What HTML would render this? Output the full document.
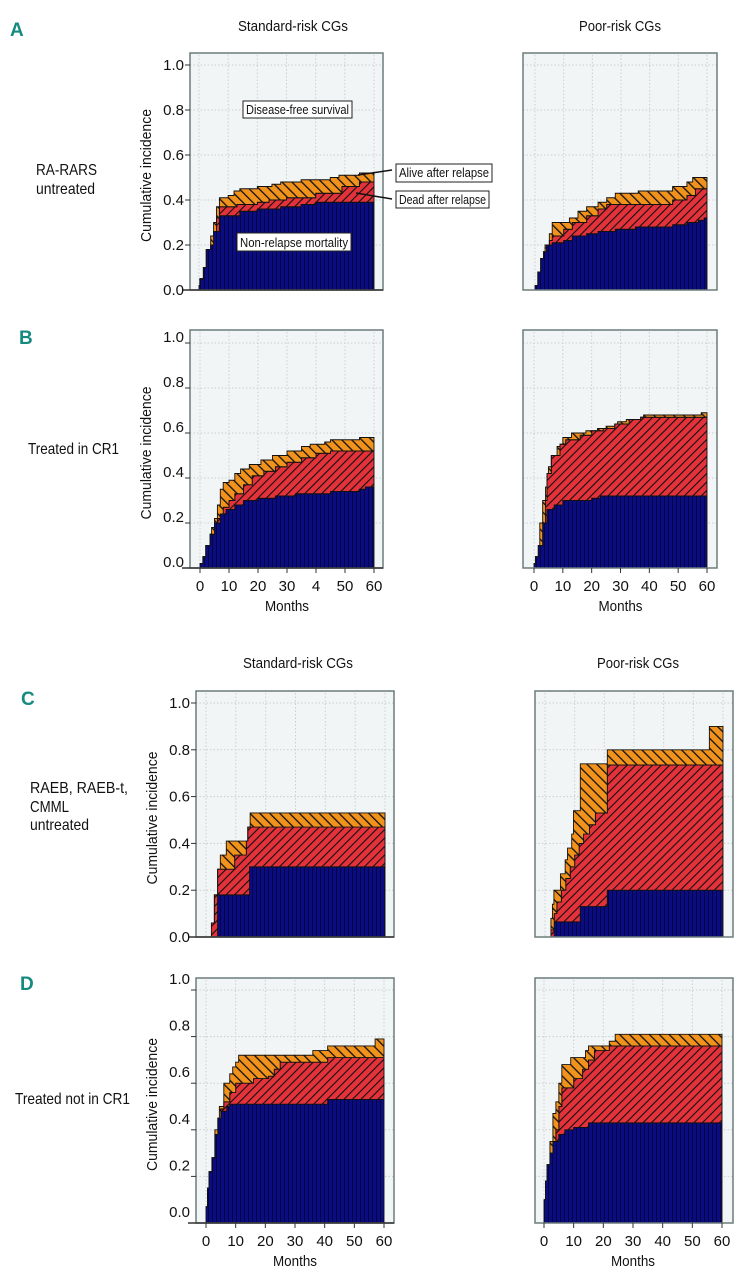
<!DOCTYPE html>
<html><head><meta charset="utf-8">
<style>
html,body{margin:0;padding:0;background:#fff;}
svg{display:block;}
text{font-family:"Liberation Sans Narrow","Liberation Sans",sans-serif;fill:#111;}
.lt{font-family:"Liberation Sans",sans-serif;font-weight:bold;font-size:19px;fill:#178a80;}
</style></head>
<body>
<svg id="fig" width="744" height="1280" viewBox="0 0 744 1280" xmlns="http://www.w3.org/2000/svg">
<defs>
<pattern id="pBlue" patternUnits="userSpaceOnUse" width="4" height="8"><rect width="4" height="8" fill="#0c0c82"/><line x1="0.5" y1="0" x2="0.5" y2="8" stroke="#05053f" stroke-width="1"/></pattern>
<pattern id="pRed" patternUnits="userSpaceOnUse" width="6" height="6" patternTransform="rotate(45)"><rect width="6" height="6" fill="#e3323a"/><line x1="0" y1="0" x2="0" y2="6" stroke="#111" stroke-width="2.2"/></pattern>
<pattern id="pOrange" patternUnits="userSpaceOnUse" width="7" height="7" patternTransform="rotate(-45)"><rect width="7" height="7" fill="#f0921c"/><line x1="0" y1="0" x2="0" y2="7" stroke="#111" stroke-width="2.6"/></pattern>
</defs>

<text class="lt" x="10" y="36">A</text>
<text class="lt" x="19" y="344">B</text>
<text class="lt" x="21" y="705">C</text>
<text class="lt" x="20" y="990">D</text>

<text x="293" y="31" font-size="15" text-anchor="middle" textLength="110" lengthAdjust="spacingAndGlyphs">Standard-risk CGs</text>
<text x="620" y="31" font-size="15" text-anchor="middle" textLength="82" lengthAdjust="spacingAndGlyphs">Poor-risk CGs</text>
<text x="298" y="668" font-size="15" text-anchor="middle" textLength="110" lengthAdjust="spacingAndGlyphs">Standard-risk CGs</text>
<text x="638" y="668" font-size="15" text-anchor="middle" textLength="82" lengthAdjust="spacingAndGlyphs">Poor-risk CGs</text>

<text x="36" y="175" font-size="16" textLength="61" lengthAdjust="spacingAndGlyphs">RA-RARS</text>
<text x="36" y="194" font-size="16" textLength="59" lengthAdjust="spacingAndGlyphs">untreated</text>
<text x="28" y="454" font-size="16" textLength="91" lengthAdjust="spacingAndGlyphs">Treated in CR1</text>
<text x="30" y="793" font-size="16" textLength="98" lengthAdjust="spacingAndGlyphs">RAEB, RAEB-t,</text>
<text x="30" y="812" font-size="16" textLength="39" lengthAdjust="spacingAndGlyphs">CMML</text>
<text x="30" y="830" font-size="16" textLength="59" lengthAdjust="spacingAndGlyphs">untreated</text>
<text x="15" y="1104" font-size="16" textLength="115" lengthAdjust="spacingAndGlyphs">Treated not in CR1</text>

<g id="charts"></g>

<g>
<rect x="243" y="101" width="109" height="17" fill="#fff" stroke="#222" stroke-width="1"/>
<text x="297.5" y="114" font-size="13" text-anchor="middle" textLength="103" lengthAdjust="spacingAndGlyphs">Disease-free survival</text>
<rect x="237" y="233" width="114" height="18" fill="#fff" stroke="#222" stroke-width="1"/>
<text x="294" y="247" font-size="13" text-anchor="middle" textLength="108" lengthAdjust="spacingAndGlyphs">Non-relapse mortality</text>
<rect x="396" y="164" width="96" height="18" fill="#fff" stroke="#222" stroke-width="1"/>
<text x="444" y="177" font-size="13" text-anchor="middle" textLength="90" lengthAdjust="spacingAndGlyphs">Alive after relapse</text>
<rect x="396" y="191" width="93" height="17" fill="#fff" stroke="#222" stroke-width="1"/>
<text x="442.5" y="204" font-size="13" text-anchor="middle" textLength="87" lengthAdjust="spacingAndGlyphs">Dead after relapse</text>
<line x1="358" y1="175" x2="392" y2="170" stroke="#111" stroke-width="1.5"/>
<line x1="356" y1="193" x2="392" y2="199" stroke="#111" stroke-width="1.5"/>
</g>
</svg>

<script>
// ---- data: [month, cumulative incidence] step points ----
const aStdNrm   = [[0,0.02],[0.3,0.05],[1.5,0.1],[2.5,0.18],[4,0.2],[5,0.26],[7,0.33],[14,0.35],[20,0.36],[28,0.37],[35,0.38],[40,0.39]];
const aStdDead  = [[5,0.26],[6,0.32],[7,0.37],[13,0.38],[20,0.39],[24,0.40],[30,0.41],[40,0.43],[49,0.46],[55,0.48]];
const aStdAlive = [[4,0.24],[5,0.3],[6,0.37],[7,0.41],[10,0.42],[12,0.44],[14,0.45],[20,0.46],[25,0.47],[28,0.48],[35,0.49],[45,0.50],[48,0.51],[55,0.52]];
const aPoorNrm   = [[0,0.02],[1,0.08],[2,0.14],[3,0.17],[4,0.2],[6,0.21],[10,0.22],[13,0.24],[18,0.25],[22,0.26],[28,0.27],[35,0.28],[48,0.29],[53,0.3],[57,0.31],[59,0.32]];
const aPoorDead  = [[4,0.2],[5,0.22],[6,0.24],[10,0.27],[13,0.30],[18,0.33],[22,0.36],[25,0.38],[48,0.40],[53,0.42],[56,0.45]];
const aPoorAlive = [[3.5,0.2],[5,0.25],[6,0.3],[12,0.32],[15,0.35],[18,0.37],[22,0.39],[25,0.41],[28,0.43],[36,0.44],[48,0.46],[53,0.48],[55,0.5]];
const bStdNrm   = [[0,0.02],[1,0.05],[2,0.1],[3.5,0.15],[5,0.2],[7,0.24],[9,0.26],[12,0.28],[15,0.3],[20,0.31],[26,0.32],[33,0.33],[45,0.34],[55,0.35],[57,0.36]];
const bStdDead  = [[6,0.22],[8,0.27],[10,0.3],[12,0.33],[15,0.37],[18,0.41],[22,0.43],[26,0.45],[30,0.47],[35,0.49],[40,0.51],[45,0.52]];
const bStdAlive = [[4,0.18],[5,0.22],[6,0.28],[7,0.35],[8,0.38],[10,0.39],[12,0.42],[14,0.44],[17,0.46],[21,0.48],[25,0.5],[30,0.52],[35,0.54],[38,0.55],[43,0.56],[45,0.57],[55,0.58]];
const bPoorNrm   = [[0,0.02],[0.5,0.05],[1.5,0.1],[3,0.2],[4.5,0.26],[7,0.28],[10,0.3],[20,0.31],[23,0.32]];
const bPoorDead  = [[4,0.3],[4.5,0.42],[6,0.5],[9,0.55],[11,0.57],[16,0.59],[20,0.61],[24,0.62],[28,0.64],[33,0.66],[37,0.67]];
const bPoorAlive = [[2,0.2],[3,0.3],[4,0.36],[5,0.45],[6,0.49],[8,0.54],[10,0.58],[13,0.6],[18,0.61],[22,0.62],[25,0.63],[29,0.65],[32,0.66],[37,0.67],[38,0.68],[58,0.69]];
const cStdNrm   = [[3.9,0.18],[14.6,0.3]];
const cStdDead  = [[1.8,0.06],[2.8,0.18],[3.9,0.29],[9.6,0.35],[13.5,0.41],[14,0.47]];
const cStdAlive = [[3.9,0.29],[4.8,0.35],[6.8,0.41],[14,0.47],[14.8,0.53]];
const cPoorNrm   = [[3.1,0.065],[11.9,0.13],[21,0.2]];
const cPoorDead  = [[2,0.03],[3.1,0.1],[4,0.15],[5.5,0.2],[7,0.25],[8.5,0.3],[10,0.35],[11.5,0.4],[13,0.44],[15,0.48],[17,0.53],[21,0.735]];
const cPoorAlive = [[2,0.08],[2.5,0.14],[3,0.2],[5.2,0.27],[6.8,0.33],[7.6,0.38],[9,0.44],[9.6,0.54],[11.9,0.74],[21,0.8],[55.4,0.9]];
const dStdNrm   = [[0,0.07],[0.5,0.15],[1,0.22],[2,0.28],[3,0.38],[4,0.45],[5,0.48],[7,0.5],[8,0.51],[41,0.53]];
const dStdDead  = [[5,0.49],[6,0.52],[8,0.56],[10,0.6],[16,0.62],[21,0.63],[23,0.66],[25,0.69],[41,0.71]];
const dStdAlive = [[3,0.4],[4,0.44],[4.5,0.5],[6,0.6],[8,0.64],[9,0.67],[10,0.69],[11,0.72],[36,0.74],[41,0.76],[57,0.79]];
const dPoorNrm   = [[0,0.1],[0.5,0.18],[1,0.25],[2,0.3],[3,0.35],[5,0.38],[7,0.4],[10,0.41],[15,0.43]];
const dPoorDead  = [[1,0.2],[2,0.28],[3,0.33],[4,0.4],[5,0.5],[6,0.58],[10,0.62],[13,0.66],[15,0.7],[17,0.74],[22,0.76]];
const dPoorAlive = [[1,0.23],[2,0.35],[3,0.47],[4,0.52],[5,0.6],[6,0.68],[9,0.71],[14,0.74],[15,0.76],[22,0.78],[24,0.81]];
const yTicks = [0, 0.2, 0.4, 0.6, 0.8, 1.0];
const yTickLabels = ["0.0","0.2","0.4","0.6","0.8","1.0"];
const xTicks = [0, 10, 20, 30, 40, 50, 60];
const xTickLabelsBStd = ["0","10","20","30","4","50","60"];
const xTickLabelsDefault = ["0","10","20","30","40","50","60"];

const NS = "http://www.w3.org/2000/svg";
const root = document.getElementById("charts");
const panels = [
 {id:"a-std", f:[190,53,383,290], x0:199, x60:374, y0:290, y1:65, yAxis:true, xAxis:false, lab:0, data:[aStdNrm,aStdDead,aStdAlive]},
 {id:"a-poor",f:[523,53,717,290], x0:535, x60:707, y0:290, y1:65, yAxis:false,xAxis:false, lab:0, data:[aPoorNrm,aPoorDead,aPoorAlive]},
 {id:"b-std", f:[190,330,383,568],x0:200, x60:374, y0:568, y1:343,yAxis:true, xAxis:true, lab:-6, xl:xTickLabelsBStd, data:[bStdNrm,bStdDead,bStdAlive]},
 {id:"b-poor",f:[523,330,717,568],x0:534, x60:707, y0:568, y1:343,yAxis:false,xAxis:true, lab:0, xl:xTickLabelsDefault, data:[bPoorNrm,bPoorDead,bPoorAlive]},
 {id:"c-std", f:[196,691,394,937],x0:206, x60:385, y0:937, y1:703,yAxis:true, xAxis:false, lab:0, data:[cStdNrm,cStdDead,cStdAlive]},
 {id:"c-poor",f:[535,691,733,937],x0:545, x60:723, y0:937, y1:703,yAxis:false,xAxis:false, lab:0, data:[cPoorNrm,cPoorDead,cPoorAlive]},
 {id:"d-std", f:[196,978,394,1223],x0:206,x60:384, y0:1223,y1:990,yAxis:true, xAxis:true, lab:-11, xl:xTickLabelsDefault, data:[dStdNrm,dStdDead,dStdAlive]},
 {id:"d-poor",f:[535,978,733,1223],x0:544,x60:722, y0:1223,y1:990,yAxis:false,xAxis:true, lab:0, xl:xTickLabelsDefault, data:[dPoorNrm,dPoorDead,dPoorAlive]}
];

function mk(tag, attrs, parent){
  const e = document.createElementNS(NS, tag);
  for (const k in attrs) e.setAttribute(k, attrs[k]);
  (parent||root).appendChild(e);
  return e;
}
function stepVal(series, t){
  let v = 0;
  for (const p of series) { if (p[0] <= t) v = p[1]; }
  return v;
}

panels.forEach(function(p){
  const g = mk("g", {});
  
  
  const xs = t => p.x0 + (p.x60 - p.x0) * t / 60;
  const ys = v => p.y0 - (p.y0 - p.y1) * v;
  const [fx1, fy1, fx2, fy2] = p.f;
  const bg = mk("rect", {x:fx1, y:fy1, width:fx2-fx1, height:fy2-fy1, fill:"#f2f5f5"}, g);
  
  
  xTicks.forEach(function(t){
    const l = mk("line", {x1:xs(t), x2:xs(t), y1:fy1+2, y2:fy2, stroke:"#c9cfcf", "stroke-width":1, "stroke-dasharray":"1.5,2"}, g);
    
    
  });
  yTicks.forEach(function(v){
    const l = mk("line", {x1:fx1, x2:fx2, y1:ys(v), y2:ys(v), stroke:"#c9cfcf", "stroke-width":1, "stroke-dasharray":"1.5,2"}, g);
    
    
  });
  const nrm = p.data[0], dead = p.data[1], alive = p.data[2];
  const tset = new Set([60]);
  p.data.forEach(s => s.forEach(q => tset.add(q[0])));
  const B = Array.from(tset).sort((a,b)=>a-b);
  const fNrm = t => stepVal(nrm, t);
  const fDead = t => Math.max(stepVal(dead, t), fNrm(t));
  const fAlive = t => Math.max(stepVal(alive, t), fDead(t));
  const fZero = t => 0;
  function region(L, U, fill, name){
    const pts = [];
    for (let i = 0; i < B.length; i++) {
      if (i > 0) pts.push([B[i], U(B[i-1])]);
      pts.push([B[i], i === B.length-1 ? U(B[i-1]) : U(B[i])]);
    }
    for (let i = B.length-1; i >= 0; i--) {
      pts.push([B[i], i === B.length-1 ? L(B[i-1]) : L(B[i])]);
      if (i > 0) pts.push([B[i], L(B[i-1])]);
    }
    const d = "M" + pts.map(q => xs(q[0]).toFixed(2) + "," + ys(q[1]).toFixed(2)).join("L") + "Z";
    const path = mk("path", {d:d, fill:fill, stroke:"#111", "stroke-width":0.9}, g);
    
    
  }
  region(fZero, fNrm, "url(#pBlue)", "area-non-relapse-mortality");
  region(fNrm, fDead, "url(#pRed)", "area-dead-after-relapse");
  region(fDead, fAlive, "url(#pOrange)", "area-alive-after-relapse");
  const fr = mk("rect", {x:fx1, y:fy1, width:fx2-fx1, height:fy2-fy1, fill:"none", stroke:"#6d7b7b", "stroke-width":1.5}, g);
  
  
  if (p.yAxis) {
    const ax = mk("line", {x1:fx1-8, x2:fx2, y1:fy2, y2:fy2, stroke:"#333", "stroke-width":1.5}, g);
    
    
    yTicks.forEach(function(v, i){
      const tk = mk("line", {x1:fx1-5, x2:fx1, y1:ys(v), y2:ys(v), stroke:"#333", "stroke-width":1}, g);
      
      
      const tx = mk("text", {x:fx1-6, y:ys(v)+5+p.lab, "text-anchor":"end", "font-size":15}, g);
      tx.textContent = yTickLabels[i];
      
      
    });
    const cx = fx1 - 39, cy = (fy1 + fy2) / 2 + 4;
    const yt = mk("text", {x:cx, y:cy, "text-anchor":"middle", "font-size":15, transform:"rotate(-90 "+cx+" "+cy+")", textLength:133, lengthAdjust:"spacingAndGlyphs"}, g);
    yt.textContent = "Cumulative incidence";
    
    
  }
  if (p.xAxis) {
    xTicks.forEach(function(t, i){
      const tk = mk("line", {x1:xs(t), x2:xs(t), y1:fy2, y2:fy2+5, stroke:"#333", "stroke-width":1}, g);
      
      
      const tx = mk("text", {x:xs(t), y:fy2+23, "text-anchor":"middle", "font-size":15}, g);
      tx.textContent = p.xl[i];
      
      
    });
    const xt = mk("text", {x:(xs(0)+xs(60))/2, y:fy2+43, "text-anchor":"middle", "font-size":15, textLength:44, lengthAdjust:"spacingAndGlyphs"}, g);
    xt.textContent = "Months";
    
    
  }
});
</script>
</body></html>
